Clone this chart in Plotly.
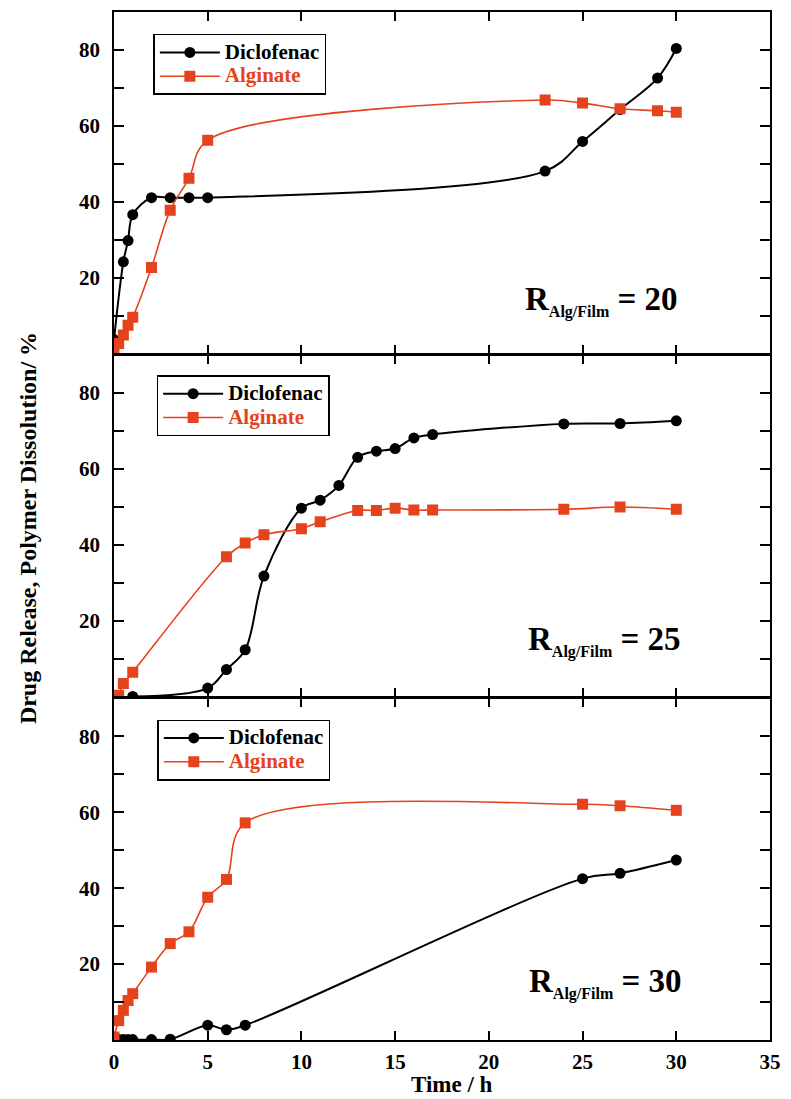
import plotly.graph_objects as go
from plotly.subplots import make_subplots

# ---------------- data ----------------
# R_Alg/Film = 20
hours_dic_20 = [0, 0.5, 0.75, 1, 2, 3, 4, 5, 23, 25, 27, 29, 30]
dic_20 = [3.7, 24.2, 29.8, 36.6, 41.1, 41.1, 41.1, 41.1, 48.1, 55.9, 64.3, 72.6, 80.4]
hours_alg_20 = [0, 0.25, 0.5, 0.75, 1, 2, 3, 4, 5, 23, 25, 27, 29, 30]
alg_20 = [0.1, 2.7, 4.9, 7.5, 9.6, 22.7, 37.8, 46.2, 56.2, 66.8, 66.0, 64.5, 64.0, 63.6]

# R_Alg/Film = 25
hours_dic_25 = [1, 5, 6, 7, 8, 10, 11, 12, 13, 14, 15, 16, 17, 24, 27, 30]
dic_25 = [0.1, 2.3, 7.2, 12.4, 31.8, 49.7, 51.8, 55.7, 63.1, 64.7, 65.4, 68.2, 69.1, 71.9, 72.0, 72.7]
hours_alg_25 = [0.25, 0.5, 1, 6, 7, 8, 10, 11, 13, 14, 15, 16, 17, 24, 27, 30]
alg_25 = [0.4, 3.5, 6.5, 36.9, 40.5, 42.7, 44.3, 46.1, 49.1, 49.1, 49.7, 49.2, 49.2, 49.4, 50.0, 49.4]

# R_Alg/Film = 30
hours_dic_30 = [0.25, 0.5, 0.75, 1, 2, 3, 5, 6, 7, 25, 27, 30]
dic_30 = [0.1, 0.1, 0.1, 0.1, 0.1, 0.2, 3.9, 2.7, 3.9, 42.5, 43.9, 47.4]
hours_alg_30 = [0, 0.25, 0.5, 0.75, 1, 2, 3, 4, 5, 6, 7, 25, 27, 30]
alg_30 = [0.8, 5.1, 7.8, 10.4, 12.2, 19.2, 25.4, 28.5, 37.6, 42.3, 57.2, 62.1, 61.7, 60.5]

panel_labels = ["20", "25", "30"]
x_ticks = [0, 5, 10, 15, 20, 25, 30, 35]
y_ticks = [20, 40, 60, 80]
y_minor_ticks = [10, 30, 50, 70]

# ---------------- style ----------------
FONT = "Liberation Serif"
ORANGE = "#E5421E"
BLACK = "#000000"
LEG_PX = 21

panels = [
    (hours_dic_20, dic_20, hours_alg_20, alg_20),
    (hours_dic_25, dic_25, hours_alg_25, alg_25),
    (hours_dic_30, dic_30, hours_alg_30, alg_30),
]

fig = make_subplots(rows=3, cols=1, vertical_spacing=0)

legend_names = ["legend", "legend2", "legend3"]
for i, (hd, d, ha, a) in enumerate(panels):
    row = i + 1
    fig.add_trace(go.Scatter(
        x=hd, y=d, mode="lines+markers",
        name="<span style='font-size:%dpx'>Diclofenac</span>" % LEG_PX,
        line=dict(color=BLACK, width=2, shape="spline", smoothing=1),
        marker=dict(symbol="circle", size=11, color=BLACK),
        legend=legend_names[i], hoverinfo="skip"), row=row, col=1)
    fig.add_trace(go.Scatter(
        x=ha, y=a, mode="lines+markers",
        name="<span style='font-size:%dpx;color:%s'>Alginate</span>" % (LEG_PX, ORANGE),
        line=dict(color=ORANGE, width=1.6, shape="spline", smoothing=1),
        marker=dict(symbol="square", size=11, color=ORANGE),
        legend=legend_names[i], hoverinfo="skip"), row=row, col=1)

# row domains with a tiny gap so shared borders are a single line
gap = 1.5 / 1030
h = (1 - 2 * gap) / 3
domains = [[2 * h + 2 * gap, 1], [h + gap, 2 * h + gap], [0, h]]

tickfont = dict(family=FONT, size=21, color=BLACK, weight="bold")
for i in range(3):
    row = i + 1
    fig.update_xaxes(
        range=[0, 35], tickvals=x_ticks, ticks="inside", ticklen=9, tickwidth=1.5,
        tickcolor=BLACK, showline=True, linecolor=BLACK, linewidth=1.5, mirror="ticks",
        showgrid=False, zeroline=False, showticklabels=(row == 3), tickfont=tickfont,
        ticklabelstandoff=2, row=row, col=1)
    fig.update_yaxes(
        range=[0, 90], tickvals=y_ticks, ticks="inside", ticklen=10,
        tickwidth=1.5, tickcolor=BLACK, showline=True, linecolor=BLACK, linewidth=1.5,
        mirror="ticks", showgrid=False, zeroline=False, tickfont=tickfont,
        minor=dict(tickvals=y_minor_ticks, ticks="inside", ticklen=10, tickwidth=1.5,
                   tickcolor=BLACK, showgrid=False),
        ticklabelstandoff=8, domain=domains[i], row=row, col=1)

legend_common = dict(
    xanchor="left", yanchor="top", bordercolor=BLACK, borderwidth=1.5, bgcolor="white",
    font=dict(family=FONT, size=16, color=BLACK, weight="bold"), tracegroupgap=0,
    itemwidth=60,
)
fig.update_layout(
    width=791, height=1099,
    margin=dict(l=114, r=15, t=10, b=59),
    paper_bgcolor="white", plot_bgcolor="white",
    showlegend=True,
    legend=dict(x=0.060, y=0.9786, **legend_common),
    legend2=dict(x=0.065, y=0.6466, **legend_common),
    legend3=dict(x=0.066, y=0.3117, **legend_common),
)

ann_font = dict(family=FONT, size=33, color=BLACK, weight="bold")
ann_pos = [(0.8625, 0.7184), (0.867, 0.3883), (0.8686, 0.0553)]
for (ax, ay), lab in zip(ann_pos, panel_labels):
    fig.add_annotation(
        x=ax, y=ay, xref="paper", yref="paper", xanchor="right", yanchor="middle",
        text="R<sub><span style='font-size:16px'>Alg/Film</span></sub> = " + lab,
        showarrow=False, font=ann_font)

fig.add_annotation(
    x=-0.131, y=0.498, xref="paper", yref="paper", xanchor="center", yanchor="middle",
    text="Drug Release, Polymer Dissolution/ %", textangle=-90, showarrow=False,
    font=dict(family=FONT, size=24, color=BLACK, weight="bold"))
fig.add_annotation(
    x=0.515, y=-0.0437, xref="paper", yref="paper", xanchor="center", yanchor="middle",
    text="Time / h", showarrow=False,
    font=dict(family=FONT, size=23, color=BLACK, weight="bold"))

fig.write_html("out.html")
